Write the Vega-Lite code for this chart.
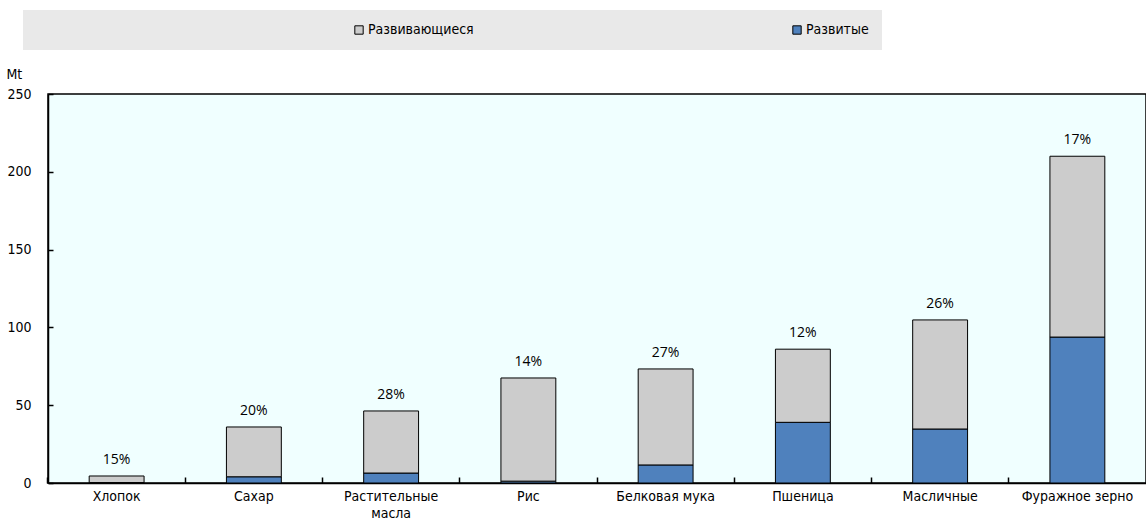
{
  "$schema": "https://vega.github.io/schema/vega-lite/v6.json",
  "width": 1098,
  "height": 389,
  "autosize": "none",
  "padding": {"left": 48, "top": 94, "right": 0, "bottom": 44},
  "background": "#ffffff",
  "config": {
    "view": {"fill": "#F0FFFF", "stroke": "#000000", "strokeWidth": 1.5},
    "font": "Liberation Sans Narrow, DejaVu Sans Condensed, Liberation Sans, sans-serif"
  },
  "data": {
    "values": [
      {"cat": "Хлопок", "group": "Развитые", "value": 0.3, "pct": "15%"},
      {"cat": "Хлопок", "group": "Развивающиеся", "value": 4.2, "pct": "15%"},
      {"cat": "Сахар", "group": "Развитые", "value": 4.0, "pct": "20%"},
      {"cat": "Сахар", "group": "Развивающиеся", "value": 32.0, "pct": "20%"},
      {"cat": "Растительные масла", "group": "Развитые", "value": 6.4, "pct": "28%"},
      {"cat": "Растительные масла", "group": "Развивающиеся", "value": 39.9, "pct": "28%"},
      {"cat": "Рис", "group": "Развитые", "value": 1.2, "pct": "14%"},
      {"cat": "Рис", "group": "Развивающиеся", "value": 66.3, "pct": "14%"},
      {"cat": "Белковая мука", "group": "Развитые", "value": 11.6, "pct": "27%"},
      {"cat": "Белковая мука", "group": "Развивающиеся", "value": 61.7, "pct": "27%"},
      {"cat": "Пшеница", "group": "Развитые", "value": 39.0, "pct": "12%"},
      {"cat": "Пшеница", "group": "Развивающиеся", "value": 47.0, "pct": "12%"},
      {"cat": "Масличные", "group": "Развитые", "value": 34.7, "pct": "26%"},
      {"cat": "Масличные", "group": "Развивающиеся", "value": 70.1, "pct": "26%"},
      {"cat": "Фуражное зерно", "group": "Развитые", "value": 93.8, "pct": "17%"},
      {"cat": "Фуражное зерно", "group": "Развивающиеся", "value": 116.2, "pct": "17%"}
    ]
  },
  "encoding": {
    "x": {
      "field": "cat",
      "type": "nominal",
      "sort": null,
      "scale": {"paddingInner": 0.6, "paddingOuter": 0.3},
      "axis": {
        "title": null,
        "labelAngle": 0,
        "labelFontSize": 14,
        "labelColor": "#000000",
        "labelPadding": 12,
        "labelExpr": "datum.label == 'Растительные масла' ? ['Растительные', 'масла'] : datum.label",
        "labelLineHeight": 17,
        "domainColor": "#000000",
        "domainWidth": 1.5,
        "tickColor": "#000000",
        "tickWidth": 1.5,
        "tickSize": -6,
        "bandPosition": -0.75,
        "tickExtra": false
      }
    }
  },
  "layer": [
    {
      "mark": {"type": "bar", "stroke": "#000000", "strokeWidth": 1},
      "encoding": {
        "y": {
          "field": "value",
          "type": "quantitative",
          "stack": "zero",
          "scale": {"domain": [0, 250], "nice": false},
          "axis": {
            "title": "Mt",
            "titleAngle": 0,
            "titleAnchor": "end",
            "titleAlign": "left",
            "titleBaseline": "middle",
            "titleX": -42,
            "titleY": -20,
            "titleFontSize": 14,
            "titleFontWeight": "normal",
            "titleColor": "#000000",
            "values": [0, 50, 100, 150, 200, 250],
            "grid": false,
            "labelFontSize": 14,
            "labelColor": "#000000",
            "labelPadding": 22,
            "domainColor": "#000000",
            "domainWidth": 1.5,
            "tickColor": "#000000",
            "tickWidth": 1.5,
            "tickSize": -5
          }
        },
        "color": {
          "field": "group",
          "type": "nominal",
          "scale": {"domain": ["Развивающиеся", "Развитые"], "range": ["#CCCCCC", "#4F81BD"]},
          "legend": {
            "title": null,
            "orient": "none",
            "direction": "horizontal",
            "legendX": -25,
            "legendY": -84,
            "fillColor": "#E9E9E9",
            "padding": 13,
            "symbolType": "square",
            "symbolSize": 70,
            "symbolStrokeColor": "#000000",
            "symbolStrokeWidth": 1,
            "symbolOffset": 316,
            "labelOffset": 2,
            "labelFontSize": 14,
            "labelColor": "#000000",
            "columnPadding": -15
          }
        },
        "order": {"field": "group", "sort": "descending"}
      }
    },
    {
      "transform": [
        {"joinaggregate": [{"op": "sum", "field": "value", "as": "total"}], "groupby": ["cat"]},
        {"filter": "datum.group == 'Развитые'"}
      ],
      "mark": {"type": "text", "baseline": "bottom", "dy": -9, "fontSize": 14, "font": "Open Sans", "color": "#000000"},
      "encoding": {
        "y": {"field": "total", "type": "quantitative"},
        "text": {"field": "pct", "type": "nominal"}
      }
    }
  ]
}
